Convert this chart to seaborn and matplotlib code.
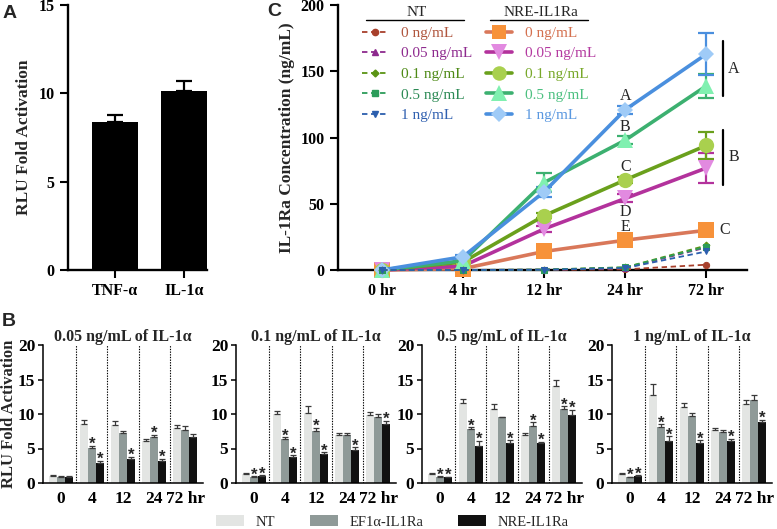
import numpy as np
import pandas as pd
import matplotlib
matplotlib.use("Agg")
import matplotlib.pyplot as plt
import seaborn as sns
from matplotlib.lines import Line2D
from matplotlib.patches import Patch
from matplotlib.container import BarContainer

# ---------------- Panel A data ----------------
a_categories = ["TNF-α", "IL-1α"]
a_values = [8.4, 10.15]
a_errors = [0.35, 0.55]

# ---------------- Panel B data ----------------
b_times = ["0", "4", "12", "24", "72 hr"]
b_groups = ["NT", "EF1α-IL1Ra", "NRE-IL1Ra"]
b_titles = ["0.05 ng/mL of IL-1α", "0.1 ng/mL of IL-1α",
            "0.5 ng/mL of IL-1α", "1 ng/mL of IL-1α"]

b005_nt = [1.0, 8.6, 8.4, 6.1, 8.0]
b005_nt_err = [0.2, 0.6, 0.6, 0.3, 0.4]
b005_ef = [0.9, 5.1, 7.2, 6.7, 7.7]
b005_ef_err = [0.1, 0.3, 0.4, 0.3, 0.6]
b005_nre = [0.9, 2.9, 3.5, 3.2, 6.7]
b005_nre_err = [0.1, 0.3, 0.3, 0.3, 0.4]
b005_ef_star = [0, 1, 0, 1, 0]
b005_nre_star = [0, 1, 1, 1, 0]

b01_nt = [1.3, 10.0, 10.2, 6.9, 9.9]
b01_nt_err = [0.15, 0.5, 0.9, 0.3, 0.4]
b01_ef = [0.9, 6.4, 7.5, 6.9, 9.5]
b01_ef_err = [0.1, 0.2, 0.5, 0.4, 0.5]
b01_nre = [1.0, 3.7, 4.2, 4.8, 8.6]
b01_nre_err = [0.1, 0.3, 0.3, 0.4, 0.4]
b01_ef_star = [1, 1, 1, 0, 0]
b01_nre_star = [1, 1, 1, 1, 1]

b05_nt = [1.3, 11.6, 10.7, 7.0, 14.1]
b05_nt_err = [0.1, 0.6, 0.7, 0.3, 0.8]
b05_ef = [0.9, 7.8, 9.5, 8.2, 10.7]
b05_ef_err = [0.05, 0.3, 0.1, 0.6, 0.4]
b05_nre = [0.8, 5.3, 5.8, 5.8, 9.8]
b05_nre_err = [0.1, 0.8, 0.4, 0.2, 0.8]
b05_ef_star = [1, 1, 0, 1, 1]
b05_nre_star = [1, 1, 1, 1, 1]

b1_nt = [1.3, 12.8, 11.0, 7.7, 11.4]
b1_nt_err = [0.1, 1.5, 0.6, 0.3, 0.7]
b1_ef = [0.8, 8.1, 9.7, 7.4, 12.1]
b1_ef_err = [0.1, 0.4, 0.4, 0.3, 0.7]
b1_nre = [1.0, 6.1, 5.8, 6.1, 8.9]
b1_nre_err = [0.1, 0.7, 0.4, 0.3, 0.3]
b1_ef_star = [1, 1, 0, 0, 0]
b1_nre_star = [1, 1, 1, 1, 1]

# ---------------- Panel C data ----------------
c_times = ["0 hr", "4 hr", "12 hr", "24 hr", "72 hr"]
c_doses = ["0 ng/mL", "0.05 ng/mL", "0.1 ng/mL", "0.5 ng/mL", "1 ng/mL"]

c_nt_0 = [0, 0, 0, 0.5, 4]
c_nt_005 = [0, 0, 0.2, 1.5, 17]
c_nt_01 = [0, 0, 0.3, 2, 18.5]
c_nt_05 = [0, 0, 0.3, 2, 17.5]
c_nt_1 = [0, 0, 0.2, 1.5, 14]

c_nre_0 = [0, 1, 14, 22.5, 30]
c_nre_005 = [0, 3, 31, 54, 77]
c_nre_01 = [0, 6, 41, 68, 94]
c_nre_05 = [0, 7, 66, 98, 139]
c_nre_1 = [0, 10, 59, 121, 163]
c_nre_0_err = [0, 0, 1, 1.5, 1]
c_nre_005_err = [0, 0.5, 2, 3, 11]
c_nre_01_err = [0, 1, 2, 2, 10]
c_nre_05_err = [0, 1, 7, 3, 9]
c_nre_1_err = [0, 1, 4, 3, 16]

# significance letters at 24 hr (one per NRE dose) and groups at 72 hr
c_letters_24 = ["E", "D", "C", "B", "A"]
c_bracket_labels = ["A", "B"]
c_bracket_ranges = [(131, 173), (64, 106)]

# ---------------- styling ----------------
sns.set_theme(style="ticks")
plt.rcParams["font.family"] = ["Liberation Serif", "DejaVu Serif"]
plt.rcParams["font.weight"] = "bold"
plt.rcParams["axes.labelweight"] = "bold"
plt.rcParams["axes.titleweight"] = "bold"
plt.rcParams["axes.edgecolor"] = "black"
plt.rcParams["xtick.color"] = "black"
plt.rcParams["ytick.color"] = "black"

W, H = 777, 529
fig = plt.figure(figsize=(W / 100, H / 100), dpi=100)


def px_axes(l, t, r, b):
    return fig.add_axes([l / W, 1 - b / H, (r - l) / W, (b - t) / H])


# ================= Panel A =================
ax_a = px_axes(68, 5, 207, 270)
sns.barplot(x=a_categories, y=a_values, color="black", saturation=1,
            width=0.67, ax=ax_a, linewidth=0)
a_bars = list(ax_a.patches)
for bar, err in zip(a_bars, a_errors):
    xc = bar.get_x() + bar.get_width() / 2
    ax_a.errorbar(xc, bar.get_height(), yerr=[[0], [err]], fmt="none",
                  ecolor="black", capsize=6, elinewidth=1.6, capthick=1.6)
ax_a.set_ylim(0, 15)
ax_a.set_yticks([0, 5, 10, 15])
ax_a.set_xlim(-0.68, 1.33)
for s in ["top", "right"]:
    ax_a.spines[s].set_visible(False)
for s in ["left", "bottom"]:
    ax_a.spines[s].set_linewidth(1.7)
ax_a.tick_params(axis="both", length=6, width=1.5, labelsize=11.5, direction="out")
ax_a.set_ylabel("RLU Fold Activation", fontsize=12.5)
ax_a.yaxis.set_label_coords(-0.26, 0.5)

# ================= Panel C =================
ax_c = px_axes(338, 5, 747, 270)
xpos = np.arange(len(c_times))

nre_series = [c_nre_0, c_nre_005, c_nre_01, c_nre_05, c_nre_1]
nre_errs = [c_nre_0_err, c_nre_005_err, c_nre_01_err, c_nre_05_err, c_nre_1_err]
nre_line = ["#d9785a", "#b3329c", "#6aa01c", "#3cb070", "#4a8fde"]
nre_face = ["#f7923a", "#e28ae0", "#a9d04e", "#80f0b0", "#9fcbf7"]
nre_text = ["#d4704f", "#b43aa0", "#78a82a", "#4cc080", "#5a98e0"]
nre_mark = ["s", "v", "o", "^", "D"]
nre_ms = [11, 12, 11, 12, 8.5]

nt_series = [c_nt_0, c_nt_005, c_nt_01, c_nt_05, c_nt_1]
nt_line = ["#a8402c", "#8e2a8e", "#5a9414", "#2c9c5a", "#2c5fae"]
nt_text = ["#b0563e", "#8e2a8e", "#4e8a16", "#2c8a55", "#3060b0"]
nt_mark = ["o", "^", "D", "s", "v"]
nt_ms = [4.5, 4.5, 3.5, 4.5, 4.5]

for i, (vals, errs) in enumerate(zip(nre_series, nre_errs)):
    sns.lineplot(x=xpos, y=vals, ax=ax_c, color=nre_line[i], linewidth=2.6,
                 marker=nre_mark[i], markersize=nre_ms[i],
                 markerfacecolor=nre_face[i], markeredgecolor=nre_face[i],
                 markeredgewidth=0, zorder=3 + i * 0.1, clip_on=False)
    errs = np.asarray(errs, float)
    m = errs > 0
    ax_c.errorbar(xpos[m], np.asarray(vals, float)[m], yerr=errs[m], fmt="none",
                  ecolor=nre_line[i], capsize=5.5, elinewidth=1.6, capthick=1.6,
                  zorder=2.5)

for i, vals in enumerate(nt_series):
    sns.lineplot(x=xpos, y=vals, ax=ax_c, color=nt_line[i], linewidth=1.3,
                 linestyle=(0, (3, 2)), marker=nt_mark[i], markersize=nt_ms[i],
                 markerfacecolor=nt_line[i], markeredgecolor=nt_line[i],
                 zorder=4, clip_on=False)

# letters at 24 hr
for i, (vals, letter) in enumerate(zip(nre_series, c_letters_24)):
    off = -9.5 if letter == "D" else 9.5
    ax_c.annotate(letter, (3, vals[3]), xytext=(0, off), textcoords="offset points",
                  ha="center", va="center", fontsize=11.5, fontweight="normal")
ax_c.annotate("C", (4, c_nre_0[4]), xytext=(13, 0), textcoords="offset points",
              ha="center", va="center", fontsize=11.5, fontweight="normal")
for lab, (lo, hi) in zip(c_bracket_labels, c_bracket_ranges):
    ax_c.plot([4.21, 4.21], [lo, hi], color="black", lw=1.6, clip_on=False)
    ax_c.text(4.34, (lo + hi) / 2, lab, ha="center", va="center",
              fontsize=11.5, fontweight="normal")

ax_c.set_xlim(-0.54, 4.5)
ax_c.set_ylim(0, 200)
ax_c.set_yticks([0, 50, 100, 150, 200])
ax_c.set_xticks(xpos)
ax_c.set_xticklabels(c_times)
for s in ["top", "right"]:
    ax_c.spines[s].set_visible(False)
for s in ["left", "bottom"]:
    ax_c.spines[s].set_linewidth(1.7)
ax_c.tick_params(axis="both", length=6, width=1.5, labelsize=11.5, direction="out")
ax_c.set_ylabel("IL-1Ra Concentration (ng/mL)", fontsize=12.5)
ax_c.yaxis.set_label_coords(-0.105, 0.5)

# legends for C
nt_handles = [Line2D([], [], color=nt_line[i], lw=1.3, ls=(0, (3, 2)),
                     marker=nt_mark[i], ms=nt_ms[i], mfc=nt_line[i], mec=nt_line[i])
              for i in range(5)]
nre_handles = [Line2D([], [], color=nre_line[i], lw=2.6, marker=nre_mark[i],
                      ms=nre_ms[i] * 0.95, mfc=nre_face[i], mec=nre_face[i], mew=0)
               for i in range(5)]
leg_kw = dict(loc="upper left", frameon=False, borderpad=0, borderaxespad=0,
              handlelength=1.7, handletextpad=0.85, labelspacing=0.45,
              prop={"family": "Liberation Serif", "weight": "normal", "size": 11},
              title_fontproperties={"family": "Liberation Serif", "weight": "normal",
                                    "size": 11})
leg1 = ax_c.legend(nt_handles, c_doses, bbox_to_anchor=(0.058, 0.995),
                   title="NT", **leg_kw)
for t, c in zip(leg1.get_texts(), nt_text):
    t.set_color(c)
ax_c.add_artist(leg1)
leg2 = ax_c.legend(nre_handles, c_doses, bbox_to_anchor=(0.362, 0.995),
                   title="NRE-IL1Ra", **leg_kw)
for t, c in zip(leg2.get_texts(), nre_text):
    t.set_color(c)

# ================= Panel B =================
b_colors = ["#e3e5e3", "#8f9a98", "#111111"]
b_panels = [
    (b005_nt, b005_nt_err, b005_ef, b005_ef_err, b005_nre, b005_nre_err, b005_ef_star, b005_nre_star),
    (b01_nt, b01_nt_err, b01_ef, b01_ef_err, b01_nre, b01_nre_err, b01_ef_star, b01_nre_star),
    (b05_nt, b05_nt_err, b05_ef, b05_ef_err, b05_nre, b05_nre_err, b05_ef_star, b05_nre_star),
    (b1_nt, b1_nt_err, b1_ef, b1_ef_err, b1_nre, b1_nre_err, b1_ef_star, b1_nre_star),
]
b_lefts = [43, 236, 422, 612]
for k, (nt, nte, ef, efe, nre, nree, efs, nres) in enumerate(b_panels):
    ax = px_axes(b_lefts[k], 345, b_lefts[k] + 160, 483)
    df = pd.DataFrame({"time": list(b_times) * 3,
                       "group": np.repeat(b_groups, len(b_times)),
                       "value": list(nt) + list(ef) + list(nre)})
    sns.barplot(data=df, x="time", y="value", hue="group", order=b_times,
                hue_order=b_groups, palette=b_colors, saturation=1, width=0.78,
                errorbar=None, legend=False, ax=ax, linewidth=0)
    bar_conts = [c for c in ax.containers if isinstance(c, BarContainer)]
    errs_all = [nte, efe, nree]
    stars_all = [[0] * 5, efs, nres]
    for gi, cont in enumerate(bar_conts):
        for j, bar in enumerate(list(cont.patches)):
            xc = bar.get_x() + bar.get_width() / 2
            top = bar.get_height()
            e = errs_all[gi][j]
            ax.errorbar(xc, top, yerr=[[0], [e]], fmt="none", ecolor="#3a3a3a",
                        capsize=2.2, elinewidth=0.9, capthick=0.9, zorder=3)
            if stars_all[gi][j]:
                ax.annotate("*", (xc, top + e), xytext=(0, -2.4),
                            textcoords="offset points", ha="center", va="baseline",
                            fontsize=12, family="Liberation Sans", fontweight="bold")
    for sep in [0.5, 1.5, 2.5, 3.5]:
        ax.axvline(sep, color="black", lw=0.8, ls=(0, (1.2, 1.2)), zorder=1)
    ax.set_xlim(-0.58, 4.58)
    ax.set_ylim(0, 20)
    ax.set_yticks([0, 5, 10, 15, 20])
    ax.set_xlabel("")
    ax.set_ylabel("")
    for s in ["top", "right"]:
        ax.spines[s].set_visible(False)
    for s in ["left", "bottom"]:
        ax.spines[s].set_linewidth(1.1)
    ax.tick_params(axis="y", length=3.5, width=1.1, labelsize=12.5, pad=2)
    ax.tick_params(axis="x", length=0, labelsize=12.5, pad=6)
    ax.set_title(b_titles[k], fontsize=11.5, pad=3)
    if k == 0:
        ax.set_ylabel("RLU Fold Activation", fontsize=12)
        ax.yaxis.set_label_coords(-0.165, 0.5)

b_handles = [Patch(facecolor=c, edgecolor="none") for c in b_colors]
fig.legend(b_handles, b_groups, loc="lower center", bbox_to_anchor=(0.505, -0.024),
           ncol=3, frameon=False, handlelength=1.9, handleheight=0.8,
           handletextpad=0.8, columnspacing=2.4,
           prop={"family": "Liberation Serif", "weight": "normal", "size": 10.5})

# panel letters
for lab, (x, y) in zip(["A", "C", "B"], [(3, 14), (267, 11), (2, 321)]):
    fig.text(x / W, 1 - y / H, lab, fontsize=14, fontweight="bold",
             family="Liberation Sans", ha="left", va="center")

# underline the legend titles
fig.canvas.draw()
r = fig.canvas.get_renderer()
for leg in (leg1, leg2):
    bb = leg.get_window_extent(r)
    tb = leg.get_title().get_window_extent(r)
    y = (tb.y0 - 1) / H
    fig.add_artist(Line2D([(bb.x0 + 4) / W, (bb.x1 - 8) / W], [y, y],
                          color="black", lw=1.0))

fig.savefig("out.png", dpi=100)
